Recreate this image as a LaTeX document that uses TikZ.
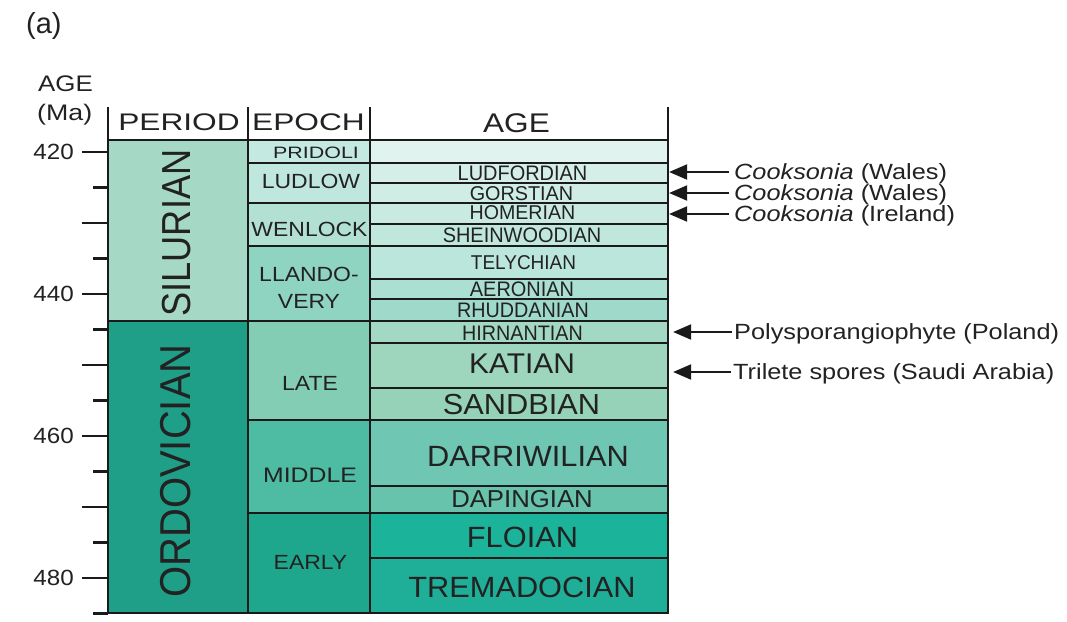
\documentclass[tikz,border=0pt]{standalone}
\usepackage{fontspec}
\setmainfont{Liberation Sans}
\usetikzlibrary{arrows.meta}
\newcommand\hs[2]{\scalebox{#1}[1]{#2}}
\definecolor{ink}{HTML}{1A1A1A}
\definecolor{txtc}{HTML}{222222}
\definecolor{csil}{HTML}{A5D9C5}
\definecolor{cord}{HTML}{1F9E88}
\definecolor{cprid}{HTML}{C3E9E1}
\definecolor{cludl}{HTML}{C0E7DE}
\definecolor{cwenl}{HTML}{B2E1D3}
\definecolor{cllan}{HTML}{8FD3C1}
\definecolor{clate}{HTML}{82CDB3}
\definecolor{cmidd}{HTML}{4EBCA3}
\definecolor{cearl}{HTML}{1FA78E}
\definecolor{cblank}{HTML}{E0F3EE}
\definecolor{cludf}{HTML}{D5EFE8}
\definecolor{cgors}{HTML}{CFEDE5}
\definecolor{chome}{HTML}{C8EAE0}
\definecolor{cshei}{HTML}{C0E7DB}
\definecolor{ctely}{HTML}{BBE6DB}
\definecolor{caero}{HTML}{ABDFD1}
\definecolor{crhud}{HTML}{9FD9C9}
\definecolor{chirn}{HTML}{A3D9C4}
\definecolor{ckati}{HTML}{9DD6BD}
\definecolor{csand}{HTML}{95D2B7}
\definecolor{cdarr}{HTML}{6EC6B3}
\definecolor{cdapi}{HTML}{67C3AC}
\definecolor{cfloi}{HTML}{1CB39B}
\definecolor{ctrem}{HTML}{1FAE97}
\begin{document}
\begin{tikzpicture}[x=1pt,y=-1pt,
  cell/.style={draw=ink, line width=2.2pt, inner sep=0pt, rectangle},
  pcell/.style={cell, minimum width=140pt},
  ecell/.style={cell, minimum width=122pt},
  acell/.style={cell, minimum width=298pt},
  tx/.style={inner sep=0pt, text=txtc, font=\fontsize{#1}{#1}\selectfont},
  lab/.style={inner ysep=0pt, inner xsep=5pt, anchor=west, text=txtc,
    font=\fontsize{22}{22}\selectfont, text height=15.75pt, text depth=0pt},
  arr/.style={line width=2pt, draw=ink, -{Triangle[length=18pt,width=15pt]}},
  tick/.style={line width=2.2pt, draw=ink},
  rule/.style={line width=2.2pt, draw=ink}]
\useasboundingbox (0,0) rectangle (1067,621);
% period cells
\node[pcell, fill=csil, minimum height=181pt] (sil) at (178,230.5) {};
\node[pcell, fill=cord, minimum height=292pt] (ord) at (178,467) {};
% epoch cells
\node[ecell, fill=cprid, minimum height=23pt] (prid) at (309,151.5) {};
\node[ecell, fill=cludl, minimum height=40pt] (ludl) at (309,183) {};
\node[ecell, fill=cwenl, minimum height=43pt] (wenl) at (309,224.5) {};
\node[ecell, fill=cllan, minimum height=75pt] (llan) at (309,283.5) {};
\node[ecell, fill=clate, minimum height=99pt] (late) at (309,370.5) {};
\node[ecell, fill=cmidd, minimum height=93pt] (midd) at (309,466.5) {};
\node[ecell, fill=cearl, minimum height=100pt] (earl) at (309,563) {};
% age cells
\node[acell, fill=cblank, minimum height=23pt] (blank) at (519,151.5) {};
\node[acell, fill=cludf, minimum height=20pt] (ludf) at (519,173) {};
\node[acell, fill=cgors, minimum height=20pt] (gors) at (519,193) {};
\node[acell, fill=chome, minimum height=21pt] (home) at (519,213.5) {};
\node[acell, fill=cshei, minimum height=22pt] (shei) at (519,235) {};
\node[acell, fill=ctely, minimum height=33pt] (tely) at (519,262.5) {};
\node[acell, fill=caero, minimum height=20pt] (aero) at (519,289) {};
\node[acell, fill=crhud, minimum height=22pt] (rhud) at (519,310) {};
\node[acell, fill=chirn, minimum height=22pt] (hirn) at (519,332) {};
\node[acell, fill=ckati, minimum height=45pt] (kati) at (519,365.5) {};
\node[acell, fill=csand, minimum height=32pt] (sand) at (519,404) {};
\node[acell, fill=cdarr, minimum height=66pt] (darr) at (519,453) {};
\node[acell, fill=cdapi, minimum height=27pt] (dapi) at (519,499.5) {};
\node[acell, fill=cfloi, minimum height=45pt] (floi) at (519,535.5) {};
\node[acell, fill=ctrem, minimum height=55pt] (trem) at (519,585.5) {};
% header rules and axis
\draw[rule] (108,107) -- (108,614);
\draw[rule] (248,107) -- (248,140);
\draw[rule] (370,107) -- (370,140);
\draw[rule] (668,107) -- (668,140);
\draw[rule] (107,140) -- (669,140);
\foreach \k in {0,...,13}{
  \pgfmathsetmacro\yy{152+\k*35.5}
  \ifodd\k \draw[tick] (93,\yy) -- (108,\yy); \else \draw[tick] (82,\yy) -- (108,\yy); \fi
}
% axis labels
\node[tx=29, anchor=base west] (pa) at (26,33) {(a)};
\node[tx=22.5, anchor=west] (agel) at (38,83.5) {\hs{1.15}{AGE}};
\node[tx=22.5, anchor=west, text height=16.1pt, text depth=0pt] (mal) at (37,112.5) {\hs{1.19}{(Ma)}};
\node[tx=22, anchor=east] (n420) at (74,152) {\hs{1.1}{420}};
\node[tx=22, anchor=east] (n440) at (74,294) {\hs{1.1}{440}};
\node[tx=22, anchor=east] (n460) at (74,436) {\hs{1.1}{460}};
\node[tx=22, anchor=east] (n480) at (74,578) {\hs{1.1}{480}};
% headers
\node[tx=24] (hper) at (179,122.5) {\hs{1.32}{PERIOD}};
\node[tx=24] (hepo) at (308.5,122.5) {\hs{1.32}{EPOCH}};
\node[tx=27] (hage) at (516.5,123.5) {\hs{1.17}{AGE}};
% period texts
\node[tx=36.2] (tsil) at (177,233) {\hs{1.12}{\rotatebox{90}{SILURIAN}}};
\node[tx=40] (tord) at (176,471) {\hs{1.08}{\rotatebox{90}{ORDOVICIAN}}};
% epoch texts
\node[tx=16.5] (tprid) at (316,152.5) {\hs{1.3}{PRIDOLI}};
\node[tx=20.5] (tludl) at (311,181) {\hs{1.12}{LUDLOW}};
\node[tx=20.5] (twenl) at (309.5,229.5) {\hs{1.12}{WENLOCK}};
\node[inner sep=0pt, text=txtc, font=\fontsize{20.5}{27}\selectfont, align=center] (tllan) at (309,287.75) {\hs{1.12}{LLANDO-}\\\hs{1.12}{VERY}};
\node[tx=20.5] (tlate) at (310,383) {\hs{1.12}{LATE}};
\node[tx=21] (tmidd) at (310,475) {\hs{1.18}{MIDDLE}};
\node[tx=20.5] (tearl) at (310.5,562) {\hs{1.12}{EARLY}};
% age texts
\node[tx=21] (tludf) at (522.5,173) {\hs{0.95}{LUDFORDIAN}};
\node[tx=20] (tgors) at (521.5,193.5) {\hs{0.99}{GORSTIAN}};
\node[tx=20] (thome) at (522.5,213) {\hs{0.98}{HOMERIAN}};
\node[tx=21] (tshei) at (522,235.5) {\hs{0.95}{SHEINWOODIAN}};
\node[tx=20] (ttely) at (523.5,263) {\hs{0.95}{TELYCHIAN}};
\node[tx=21] (taero) at (522,289.5) {\hs{0.95}{AERONIAN}};
\node[tx=21] (trhud) at (523,310.5) {\hs{0.94}{RHUDDANIAN}};
\node[tx=21] (thirn) at (522.5,333) {\hs{0.94}{HIRNANTIAN}};
\node[tx=28.5] (tkati) at (522,364) {\hs{1.05}{KATIAN}};
\node[tx=29] (tsand) at (521.5,404.5) {\hs{1.06}{SANDBIAN}};
\node[tx=29.3] (tdarr) at (528,456) {\hs{1.05}{DARRIWILIAN}};
\node[tx=24.5] (tdapi) at (522,499) {\hs{1.05}{DAPINGIAN}};
\node[tx=29.3] (tfloi) at (522.5,537.5) {\hs{1.05}{FLOIAN}};
\node[tx=29.3] (ttrem) at (522,587.5) {\hs{1.05}{TREMADOCIAN}};
% right labels
\node[lab] (l1) at (729,172) {\hs{1.15}{\textit{Cooksonia} (Wales)}};
\node[lab] (l2) at (729,193) {\hs{1.15}{\textit{Cooksonia} (Wales)}};
\node[lab] (l3) at (729,214) {\hs{1.15}{\textit{Cooksonia} (Ireland)}};
\node[lab, inner xsep=2pt] (l4) at (732,332) {\hs{1.15}{Polysporangiophyte (Poland)}};
\node[lab, inner xsep=2pt] (l5) at (731,372) {\hs{1.15}{Trilete spores (Saudi Arabia)}};
\draw[arr] (l1.west) -- (ludf.east |- l1.west);
\draw[arr] (l2.west) -- (gors.east |- l2.west);
\draw[arr] (l3.west) -- (home.east |- l3.west);
\draw[arr, shorten >=4pt] (l4.west) -- (hirn.east |- l4.west);
\draw[arr, shorten >=4pt] (l5.west) -- (kati.east |- l5.west);
\end{tikzpicture}
\end{document}
